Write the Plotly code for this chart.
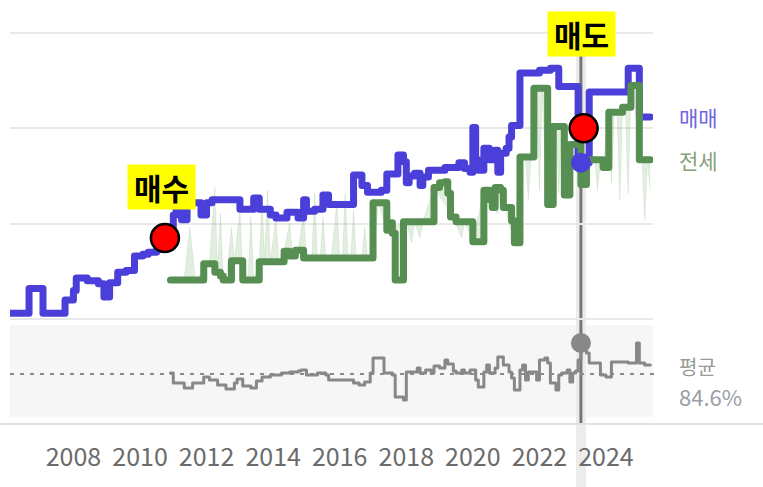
import plotly.graph_objects as go

W, H = 763, 487

# ---------------- data (price in 억원, ratio in %) ----------------
sale_dates = ["2006-02", "2006-09", "2007-02", "2007-10", "2008-01", "2008-02", "2008-06", "2008-10",
              "2008-12", "2009-02", "2009-05", "2009-08", "2009-11", "2010-02", "2010-04", "2010-07",
              "2010-10", "2010-11", "2011-01", "2011-02", "2011-04", "2011-06", "2011-11", "2012-01",
              "2012-03", "2013-01", "2013-06", "2013-08", "2013-12", "2014-02", "2014-06", "2014-10",
              "2014-12", "2015-01", "2015-04", "2015-07", "2015-09", "2016-06", "2016-09", "2016-11",
              "2017-04", "2017-06", "2017-10", "2017-12", "2018-01", "2018-02", "2018-04", "2018-06",
              "2018-07", "2018-09", "2019-03", "2019-08", "2019-10", "2019-12", "2020-01", "2020-02",
              "2020-03", "2020-05", "2020-07", "2020-09", "2020-10", "2020-11", "2021-01", "2021-02",
              "2021-03", "2021-06", "2022-01", "2022-05", "2022-08", "2023-03", "2023-07", "2024-09",
              "2025-01", "2025-05"]
sale_prices = [2.06, 2.32, 2.06, 2.20, 2.30, 2.43, 2.40, 2.37,
               2.23, 2.38, 2.49, 2.51, 2.66, 2.68, 2.70, 2.73,
               2.83, 2.93, 3.09, 3.17, 3.04, 3.22, 3.09, 3.22,
               3.25, 3.15, 3.27, 3.15, 3.09, 3.06, 3.12, 3.06,
               3.25, 3.13, 3.15, 3.30, 3.20, 3.51, 3.40, 3.33,
               3.35, 3.52, 3.72, 3.65, 3.43, 3.50, 3.53, 3.40,
               3.49, 3.56, 3.59, 3.64, 3.58, 3.54, 4.01, 3.67,
               3.56, 3.79, 3.67, 3.77, 3.54, 3.74, 3.79, 3.91,
               4.03, 4.58, 4.61, 4.63, 4.44, 3.64, 4.38, 4.63,
               4.12, 4.12]

jeonse_dates = ["2010-12", "2011-12", "2012-04", "2012-06", "2012-07", "2012-10", "2013-02", "2013-08",
                "2014-05", "2014-07", "2014-09", "2014-12", "2017-01", "2017-06", "2017-07", "2017-08",
                "2017-09", "2017-12", "2018-11", "2019-01", "2019-03", "2019-04", "2019-05", "2019-07",
                "2020-01", "2020-05", "2020-07", "2020-08", "2020-09", "2020-11", "2020-12", "2021-03",
                "2021-04", "2021-06", "2021-11", "2022-04", "2022-06", "2022-10", "2022-12", "2023-04",
                "2023-06", "2023-12", "2024-02", "2024-07", "2024-10", "2025-01", "2025-05"]
jeonse_prices = [2.41, 2.58, 2.49, 2.45, 2.41, 2.61, 2.41, 2.60,
                 2.71, 2.66, 2.72, 2.64, 3.22, 2.93, 3.01, 2.90,
                 2.41, 3.02, 3.38, 3.43, 3.44, 3.32, 3.07, 3.02,
                 2.81, 3.35, 3.25, 3.17, 3.38, 3.35, 3.17, 3.03,
                 2.80, 3.70, 4.42, 3.20, 4.02, 3.30, 3.83, 3.41,
                 3.67, 3.59, 4.17, 4.22, 4.45, 3.67, 3.67]

jeonse_raw_dates = ["2010-12", "2011-05", "2011-07", "2011-09", "2012-02", "2012-04", "2012-05", "2012-06",
                    "2012-07", "2012-08", "2012-10", "2012-11", "2013-01", "2013-02", "2013-04", "2013-05",
                    "2013-06", "2013-08", "2013-09", "2013-10", "2013-11", "2013-12", "2014-02", "2014-03",
                    "2014-05", "2014-07", "2014-08", "2014-10", "2014-12", "2015-01", "2015-03", "2015-04",
                    "2015-05", "2015-06", "2015-07", "2015-08", "2015-10", "2015-12", "2016-01", "2016-02",
                    "2016-03", "2016-04", "2016-05", "2016-06", "2016-07", "2016-09", "2016-10", "2016-11",
                    "2016-12", "2017-01", "2017-02", "2017-03", "2017-06", "2018-01", "2018-03", "2018-04",
                    "2018-06", "2018-07", "2018-11", "2019-06", "2019-09", "2019-10", "2020-01", "2020-05",
                    "2020-10", "2020-11", "2021-04", "2021-06", "2021-08", "2021-09", "2021-10", "2021-11",
                    "2021-12", "2022-01", "2022-02", "2022-03", "2022-04", "2022-06", "2022-07", "2022-08",
                    "2022-09", "2022-10", "2022-12", "2023-04", "2023-06", "2023-09", "2023-10", "2023-11",
                    "2023-12", "2024-02", "2024-03", "2024-04", "2024-05", "2024-06", "2024-07", "2024-08",
                    "2024-09", "2024-10", "2024-12", "2025-01", "2025-02", "2025-03", "2025-04", "2025-05"]
jeonse_raw_prices = [2.41, 2.41, 2.96, 2.41, 2.58, 3.38, 2.49, 3.11,
                     2.41, 2.41, 2.96, 2.61, 3.14, 2.41, 2.41, 3.07,
                     2.41, 2.60, 3.25, 2.60, 3.35, 2.60, 3.07, 2.60,
                     2.71, 3.01, 2.66, 2.72, 3.11, 2.64, 2.64, 3.32,
                     2.64, 2.64, 3.07, 2.64, 2.64, 3.22, 2.64, 2.64,
                     3.32, 2.64, 2.64, 3.14, 2.64, 2.64, 2.96, 2.64,
                     2.64, 3.22, 2.95, 3.22, 2.93, 3.02, 2.80, 3.02,
                     2.85, 3.02, 3.38, 3.07, 2.85, 3.02, 2.81, 3.35,
                     3.10, 3.35, 2.80, 3.70, 3.70, 3.25, 3.70, 4.42,
                     4.42, 3.35, 4.42, 3.70, 3.20, 4.02, 4.02, 3.32,
                     4.02, 3.30, 3.83, 3.41, 3.67, 3.67, 3.35, 3.67,
                     3.59, 4.17, 3.43, 4.17, 4.17, 3.25, 4.22, 4.22,
                     3.32, 4.45, 4.45, 3.67, 3.67, 3.04, 3.67, 3.35]

ratio_dates = ["2010-12", "2011-01", "2011-05", "2011-08", "2011-12", "2012-02", "2012-05", "2012-08",
               "2012-11", "2012-12", "2013-02", "2013-05", "2013-07", "2013-09", "2013-12", "2014-04",
               "2014-07", "2014-10", "2014-11", "2015-01", "2015-05", "2015-08", "2015-09", "2016-06",
               "2016-08", "2016-10", "2016-12", "2017-01", "2017-05", "2017-08", "2017-09", "2017-12",
               "2018-01", "2018-05", "2018-06", "2018-08", "2018-10", "2018-11", "2019-01", "2019-03",
               "2019-04", "2019-06", "2019-07", "2019-09", "2019-10", "2019-12", "2020-02", "2020-03",
               "2020-05", "2020-06", "2020-07", "2020-09", "2020-10", "2020-12", "2021-02", "2021-03",
               "2021-04", "2021-06", "2021-07", "2021-08", "2021-09", "2021-12", "2022-01", "2022-03",
               "2022-04", "2022-05", "2022-07", "2022-08", "2022-09", "2022-11", "2022-12", "2023-01",
               "2023-02", "2023-03", "2023-04", "2023-06", "2023-07", "2023-11", "2024-01", "2024-03",
               "2024-09", "2024-12", "2025-01", "2025-03", "2025-05"]
ratio_values = [85.1, 80.1, 77.6, 80.1, 83.1, 81.6, 79.1, 77.1,
                80.1, 82.1, 78.6, 77.6, 81.1, 83.1, 84.1, 85.1,
                85.6, 86.1, 86.6, 84.1, 85.1, 84.1, 81.6, 80.1,
                79.1, 80.6, 85.1, 92.6, 85.1, 84.1, 73.1, 71.6,
                85.6, 87.6, 85.1, 86.6, 85.1, 88.6, 87.6, 91.6,
                89.6, 86.1, 85.1, 86.6, 85.1, 86.6, 81.6, 78.1,
                85.6, 89.1, 85.1, 87.6, 93.1, 89.1, 85.6, 82.6,
                76.6, 86.6, 89.1, 81.6, 85.6, 81.6, 91.6, 92.6,
                90.1, 80.1, 76.6, 84.1, 85.1, 86.6, 80.6, 85.1,
                86.1, 91.6, 100.1, 95.1, 90.1, 84.1, 83.1, 90.6,
                90.1, 100.1, 90.1, 89.1, 89.1]

avg_ratio = 84.6
buy_date, buy_price = "2010-10-01", 2.85
sell_date, sell_price = "2023-05-01", 4.00
hover_date, hover_sale, hover_ratio = "2023-04-01", 3.64, 100.1
tick_years = ["2008", "2010", "2012", "2014", "2016", "2018", "2020", "2022", "2024"]

# ---------------- styling ----------------
BLUE = "#4a3fd8"
GREEN = "#578f52"
GRAY = "#888888"
FONT = "Noto Sans CJK KR, Noto Sans, sans-serif"


def py(p):  # pixel row -> paper fraction
    return (H - p) / H


fig = go.Figure()

# base copy of 전세 line for the raw-data fill
fig.add_trace(go.Scatter(x=jeonse_dates, y=jeonse_prices, mode="lines",
                         line=dict(shape="hv", width=0, color="rgba(0,0,0,0)"),
                         hoverinfo="skip", showlegend=False))
fig.add_trace(go.Scatter(x=jeonse_raw_dates, y=jeonse_raw_prices, mode="lines",
                         line=dict(width=0.6, color="rgba(140,185,130,0.3)"),
                         fill="tonexty", fillcolor="rgba(150,195,140,0.28)",
                         hoverinfo="skip", showlegend=False))

# ratio line
fig.add_trace(go.Scatter(x=ratio_dates, y=ratio_values, yaxis="y2", mode="lines",
                         line=dict(shape="hv", width=3, color=GRAY), showlegend=False))

# 매매 / 전세 lines
fig.add_trace(go.Scatter(x=sale_dates, y=sale_prices, mode="lines", name="매매",
                         line=dict(shape="hv", width=7, color=BLUE), showlegend=False))
fig.add_trace(go.Scatter(x=jeonse_dates, y=jeonse_prices, mode="lines", name="전세",
                         line=dict(shape="hv", width=7, color=GREEN), showlegend=False))

# hover markers
fig.add_trace(go.Scatter(x=[hover_date], y=[hover_sale], mode="markers",
                         marker=dict(size=20, color=BLUE), showlegend=False))
fig.add_trace(go.Scatter(x=[hover_date], y=[hover_ratio], yaxis="y2", mode="markers",
                         marker=dict(size=20, color=GRAY), showlegend=False))

# buy / sell markers
fig.add_trace(go.Scatter(x=[buy_date, sell_date], y=[buy_price, sell_price], mode="markers",
                         marker=dict(size=28, color="#ff0000", line=dict(color="black", width=2.5)),
                         showlegend=False))

shapes = [
    # ratio panel background
    dict(type="rect", xref="x domain", yref="y2 domain", x0=0, x1=1, y0=0, y1=1,
         fillcolor="#f6f6f6", line=dict(width=0), layer="below"),
    # hover band
    dict(type="line", xref="x", yref="paper", x0=hover_date, x1=hover_date,
         y0=0, y1=py(55), line=dict(color="#ececec", width=10), layer="below"),
    # hover line
    dict(type="line", xref="x", yref="paper", x0=hover_date, x1=hover_date,
         y0=py(424), y1=py(55), line=dict(color="#777777", width=3), layer="below"),
    # average dashed line
    dict(type="line", xref="x domain", yref="y2", x0=0, x1=1.006, y0=avg_ratio, y1=avg_ratio,
         line=dict(color="#8a8a8a", width=2, dash="4px,6px"), layer="below"),
    # separator
    dict(type="line", xref="paper", yref="paper", x0=0, x1=1, y0=py(424), y1=py(424),
         line=dict(color="#e2e2e2", width=2)),
]

annotations = [
    dict(x=buy_date, y=buy_price, xref="x", yref="y", text="\u2009<b>매수</b>\u2009", showarrow=False,
         yshift=51, xshift=-3, bgcolor="#ffff00", borderpad=0,
         font=dict(family=FONT, size=30, color="black")),
    dict(x=sell_date, y=sell_price, xref="x", yref="y", text="\u2009<b>매도</b>\u2009", showarrow=False,
         yshift=94, xshift=-2, bgcolor="#ffff00", borderpad=0,
         font=dict(family=FONT, size=30, color="black")),
    dict(x=677 / W, y=sale_prices[-1], xref="paper", yref="y", text="매매", showarrow=False,
         xanchor="left", yanchor="middle", font=dict(family=FONT, size=21, color="#6f66e0")),
    dict(x=677 / W, y=jeonse_prices[-1], xref="paper", yref="y", text="전세", showarrow=False,
         xanchor="left", yanchor="middle", font=dict(family=FONT, size=21, color="#86a07a")),
    dict(x=677 / W, y=avg_ratio, xref="paper", yref="y2", text="평균", showarrow=False,
         xanchor="left", yanchor="middle", yshift=8, font=dict(family=FONT, size=20, color="#9a9a9a")),
    dict(x=677 / W, y=avg_ratio, xref="paper", yref="y2", text=f"{avg_ratio:.1f}%", showarrow=False,
         xanchor="left", yanchor="middle", yshift=-22, font=dict(family=FONT, size=22, color="#9aa0a8")),
]

fig.update_layout(
    width=W, height=H,
    margin=dict(l=0, r=0, t=0, b=0),
    paper_bgcolor="white", plot_bgcolor="white",
    showlegend=False,
    font=dict(family=FONT),
    xaxis=dict(type="date", range=["2006-02-04", "2025-05-31"], domain=[10 / W, 653 / W],
               anchor="free", position=py(440),
               tickvals=[f"{y}-01-01" for y in tick_years], ticktext=tick_years,
               showgrid=False, zeroline=False, showline=False, ticks="",
               tickfont=dict(family=FONT, size=25, color="#6b6b6b")),
    yaxis=dict(domain=[py(322), 1], range=[1.9685, 5.3463], tickvals=[2, 3, 4, 5],
               showticklabels=False, gridcolor="#e8e8e8", gridwidth=2, zeroline=False),
    yaxis2=dict(domain=[py(417), py(325)], range=[63.1, 109.1], anchor="x",
                showgrid=False, showticklabels=False, zeroline=False),
    shapes=shapes,
    annotations=annotations,
)

post_js = """
document.body.style.margin = '0';
var gd = document.getElementById('{plot_id}');
gd.querySelectorAll('path.js-line').forEach(function (p) {
  p.style.strokeLinejoin = 'round';
  p.style.strokeLinecap = 'round';
});
"""

fig.write_html("out.html", post_script=post_js, config={"displayModeBar": False})
